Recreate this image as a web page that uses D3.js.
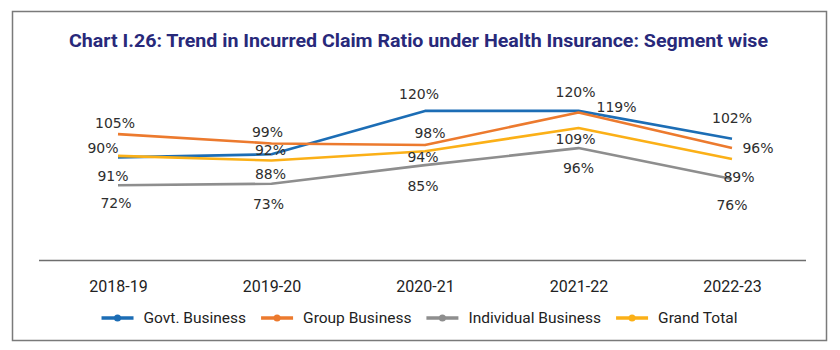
<!DOCTYPE html>
<html lang="en">
<head>
    <meta charset="UTF-8">
    <title>Trend in Incurred Claim Ratio under Health Insurance</title>
    <script src="https://d3js.org/d3.v7.min.js"></script>
    <style>
        body { margin: 0; background: #fff; }
        svg text { font-family: Roboto, "Liberation Sans", sans-serif; }
        .lbl { font-family: "DejaVu Sans", sans-serif; font-size: 14px; fill: #2e2e2e; }
    </style>
</head>
<body>
    <svg id="chart" width="840" height="350"></svg>

    <script>
        // Datos
        const years = ["2018-19", "2019-20", "2020-21", "2021-22", "2022-23"];
        const govt = [90, 92, 120, 120, 102];
        const group = [105, 99, 98, 119, 96];
        const individual = [72, 73, 85, 96, 76];
        const grandTotal = [91, 88, 94, 109, 89];

        const series = [
            {name: "Govt. Business", values: govt, color: "#1c6db5"},
            {name: "Group Business", values: group, color: "#ec7a2e"},
            {name: "Individual Business", values: individual, color: "#8e8e8e"},
            {name: "Grand Total", values: grandTotal, color: "#fbb017"}
        ];

        // posición de las etiquetas respecto al punto (dx, dy)
        const labelOffsets = [
            [[-15, -9], [-1, -4], [-6, -17], [-3, -19], [0, -21]],
            [[-3, -11], [-4, -11], [5, -12], [38, -5], [26, 0]],
            [[-2, 18], [-3, 20], [-2, 21], [0, 20], [0, 26]],
            [[-5, 20], [-1, 13], [-2, 6], [-3, 11], [7, 18]]
        ];

        const svg = d3.select("#chart");

        // Marco
        svg.append("rect")
           .attr("x", 12.5).attr("y", 11.5)
           .attr("width", 814).attr("height", 329)
           .attr("fill", "none")
           .attr("stroke", "#7a7a7a")
           .attr("stroke-width", 1.5);

        // Título
        svg.append("text")
           .attr("x", 418.5)
           .attr("y", 47)
           .attr("text-anchor", "middle")
           .attr("font-size", "19px")
           .attr("font-weight", "bold")
           .attr("fill", "#28297a")
           .attr("textLength", 699)
           .attr("lengthAdjust", "spacingAndGlyphs")
           .text("Chart I.26: Trend in Incurred Claim Ratio under Health Insurance: Segment wise");

        // Escalas
        const x = d3.scalePoint().domain(years).range([118, 732]);
        const y = d3.scaleLinear().domain([60, 130]).range([203.9, 95.4]);

        // Eje X
        const xAxis = svg.append("g")
           .attr("transform", "translate(0,260.5)")
           .call(d3.axisBottom(x).tickSize(0).tickPadding(20));
        xAxis.select(".domain").remove();
        xAxis.selectAll("text")
             .attr("font-size", "16px")
             .attr("font-family", "Roboto, sans-serif")
             .attr("fill", "#222");
        svg.append("line")
           .attr("x1", 39).attr("x2", 806)
           .attr("y1", 260.5).attr("y2", 260.5)
           .attr("stroke", "#6e6e6e")
           .attr("stroke-width", 1.5);

        // Líneas
        const line = d3.line()
                       .x((d, i) => x(years[i]))
                       .y(d => y(d));

        series.forEach(s => {
            svg.append("path")
               .datum(s.values)
               .attr("fill", "none")
               .attr("stroke", s.color)
               .attr("stroke-width", 2.6)
               .attr("stroke-linejoin", "round")
               .attr("d", line);
        });

        // Etiquetas de datos
        series.forEach((s, si) => {
            svg.selectAll(null)
               .data(s.values)
               .enter()
               .append("text")
               .attr("class", "lbl")
               .attr("x", (d, i) => x(years[i]) + labelOffsets[si][i][0])
               .attr("y", (d, i) => y(d) + labelOffsets[si][i][1])
               .attr("text-anchor", "middle")
               .attr("dominant-baseline", "central")
               .text(d => d + "%");
        });

        // Leyenda
        const legend = svg.append("g");
        let lx = 0;
        series.forEach(s => {
            const g = legend.append("g").attr("transform", `translate(${lx},0)`);
            g.append("line")
             .attr("x1", 0).attr("x2", 32)
             .attr("y1", 0).attr("y2", 0)
             .attr("stroke", s.color)
             .attr("stroke-width", 3.5);
            g.append("circle")
             .attr("cx", 16).attr("cy", 0).attr("r", 3.5)
             .attr("fill", s.color);
            const t = g.append("text")
             .attr("x", 42)
             .attr("y", 0)
             .attr("dominant-baseline", "central")
             .attr("font-size", "15.5px")
             .attr("fill", "#222")
             .text(s.name);
            lx += 42 + t.node().getComputedTextLength() + 15;
        });
        const totalW = lx - 15;
        legend.attr("transform", `translate(${419.5 - totalW / 2},318)`);
    </script>
</body>
</html>
